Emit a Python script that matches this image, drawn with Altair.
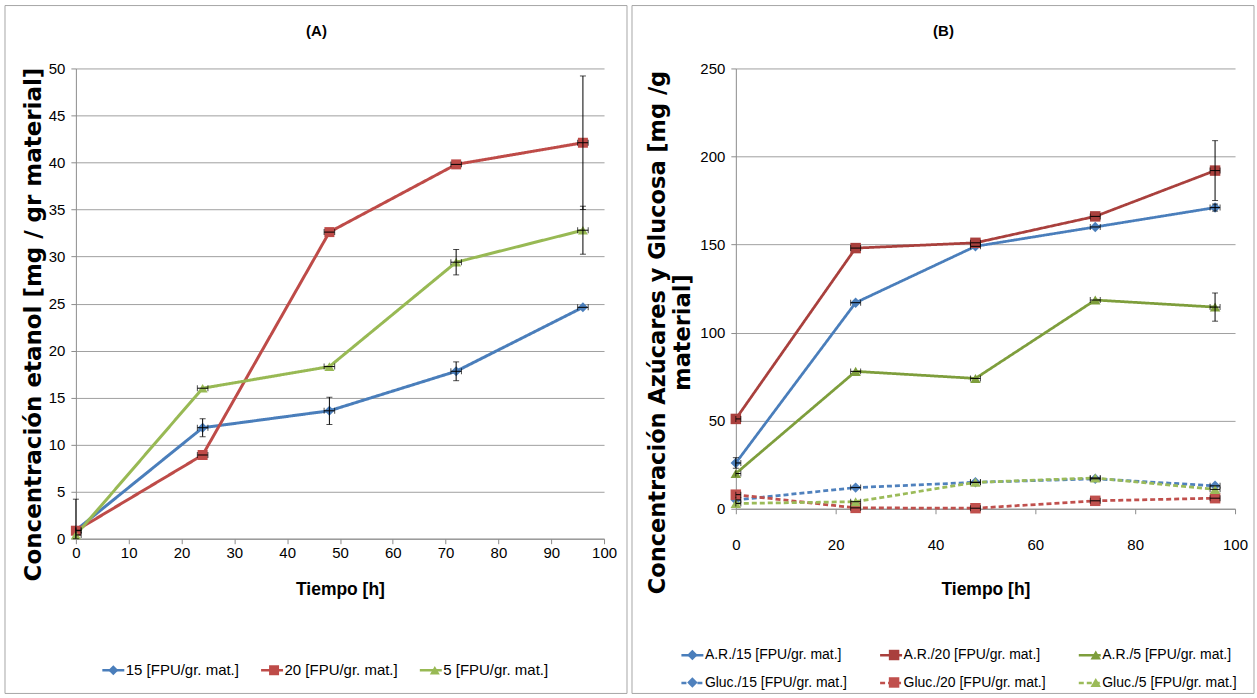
import math
import altair as alt
import pandas as pd

# ---------------- data ----------------
time_h = [0, 24, 48, 72, 96]
time_err = 1.0

a_names = ["15 [FPU/gr. mat.]", "20 [FPU/gr. mat.]", "5 [FPU/gr. mat.]"]
a_15 = [0.9, 11.8, 13.6, 17.8, 24.6]
a_20 = [0.85, 8.9, 32.6, 39.8, 42.1]
a_5 = [0.4, 16.0, 18.3, 29.4, 32.8]
a_15_err = [0.0, 0.95, 1.45, 1.0, 0.0]
a_20_err = [3.35, 0.0, 0.0, 0.0, 7.1]
a_5_err = [0.0, 0.0, 0.0, 1.35, 2.55]

b_names = ["A.R./15 [FPU/gr. mat.]", "A.R./20 [FPU/gr. mat.]", "A.R./5 [FPU/gr. mat.]",
           "Gluc./15 [FPU/gr. mat.]", "Gluc./20 [FPU/gr. mat.]", "Gluc./5 [FPU/gr. mat.]"]
b_ar15 = [26, 117, 149, 160, 171]
b_ar20 = [51, 148, 151, 166, 192]
b_ar5 = [20, 78, 74, 118.5, 114.5]
b_gl15 = [5, 12, 15, 17, 13]
b_gl20 = [8, 0.5, 0.3, 4.5, 6]
b_gl5 = [3, 4, 15, 17.5, 11]
b_ar15_err = [3, 0, 0, 0, 2]
b_ar20_err = [0, 0, 0, 0, 17]
b_ar5_err = [0, 0, 0, 0, 8]
b_gl_err = [0, 0, 0, 0, 0]

# ---------------- styles ----------------
FONT_N = "Liberation Sans"
FONT_W = "DejaVu Sans"
GRID = "#A0A0A0"
AXC = "#8C8C8C"
ZW = "\u200b"  # keeps the marker legend's domain distinct from the line legend's

a_colors = ["#4A7EBB", "#BE4B48", "#98B954"]
a_markers = ["diamond", "square", "triangle-up"]
b_colors = ["#4A7EBB", "#A9403D", "#7E9E3C", "#4F81BD", "#C0504D", "#9BBB59"]
b_markers = ["diamond", "square", "triangle-up"] * 2
b_dashes = [[1, 0]] * 3 + [[5, 3]] * 3

# Liberation Sans advance widths (per 1000 em) for the legend label characters
ADV = {"G": 778, "l": 222, "u": 556, "c": 500, ".": 278, "/": 278, "1": 556, "2": 556,
       "0": 556, "5": 556, " ": 278, "[": 278, "F": 611, "P": 667, "U": 722, "g": 556,
       "r": 333, "m": 833, "a": 556, "t": 278, "]": 278, "A": 667, "R": 722}


def text_w(s, size):
    return sum(ADV.get(ch, 556) for ch in s) * size / 1000.0


def long_df(names, vals, errs, markers):
    rows = []
    for n, vs, es, mk in zip(names, vals, errs, markers):
        for t, v, e in zip(time_h, vs, es):
            rows.append(dict(t=t, v=v, series=n, series_m=n + ZW, err=e, lo=max(0.0, v - e),
                             hi=v + e, tlo=max(0.0, t - time_err), thi=t + time_err, marker=mk))
    return pd.DataFrame(rows)


dfA = long_df(a_names, [a_15, a_20, a_5], [a_15_err, a_20_err, a_5_err], a_markers)
dfB = long_df(b_names, [b_ar15, b_ar20, b_ar5, b_gl15, b_gl20, b_gl5],
              [b_ar15_err, b_ar20_err, b_ar5_err, b_gl_err, b_gl_err, b_gl_err], b_markers)


def panel(df, names, colors, dashes, markers, ydom, ystep, xstep, ytitle, ytitle_size, W, H,
          xlab_pad, xtitle_pad, ytitle_y, ytitle_pad, leg_x, leg_y, leg_cols, leg_colpad,
          leg_rowpad, leg_font, title_text, title_x, frame, line_w, mk_size):
    xs = alt.Scale(domain=[0, 100], nice=False)
    ys = alt.Scale(domain=ydom, nice=False)
    xaxis = alt.Axis(values=list(range(0, 101, xstep)), title="Tiempo [h]", grid=False,
                     tickSize=5, tickColor=AXC, domainColor=AXC, labelFont=FONT_N,
                     labelFontSize=15, labelColor="#000", labelPadding=xlab_pad, labelFlush=False,
                     titleFont=FONT_N, titleFontSize=17.5, titleFontWeight="bold",
                     titleColor="#000", titlePadding=xtitle_pad)
    yaxis = alt.Axis(values=list(range(ydom[0], ydom[1] + 1, ystep)), title=ytitle,
                     grid=True, gridColor=GRID, gridWidth=1, tickSize=5, tickColor=AXC,
                     domainColor=AXC, labelFont=FONT_N, labelFontSize=15, labelColor="#000",
                     labelPadding=6, titleFont=FONT_W, titleFontSize=ytitle_size,
                     titleFontWeight="bold", titleColor="#000", titlePadding=ytitle_pad,
                     titleY=ytitle_y, titleLineHeight=25)

    def X(f):
        return alt.X(f, type="quantitative", scale=xs, axis=xaxis)

    def Y(f):
        return alt.Y(f, type="quantitative", scale=ys, axis=yaxis)

    # line legend (line symbols, dashed where the series is dashed); entry size 25 px
    lo_line = 0
    line_legend = alt.Legend(orient="none", legendX=leg_x, legendY=leg_y,
                             direction="horizontal", columns=leg_cols, title=None,
                             labelFont=FONT_N, labelFontSize=leg_font, labelColor="#000",
                             symbolSize=484, symbolStrokeWidth=2.5, labelOffset=lo_line,
                             columnPadding=leg_colpad, rowPadding=leg_rowpad, labelLimit=400)
    # marker legend (no label text) laid over the line legend, markers centred on each line
    size_m = max(math.ceil(mk_size ** 0.5), leg_font)
    d = 12.5 - size_m / 2
    col_w = [max(text_w(names[i], leg_font) for i in range(c, len(names), leg_cols))
             for c in range(leg_cols)]
    lab_x = 25 + lo_line
    mk_colpad = leg_colpad + math.ceil(lab_x + col_w[0]) - lab_x
    mk_legend = alt.Legend(orient="none", legendX=leg_x, legendY=leg_y + d,
                           direction="horizontal", columns=leg_cols, title=None,
                           labelFont=FONT_N, labelFontSize=leg_font, labelOpacity=0,
                           labelExpr="''",
                           symbolSize=mk_size, symbolStrokeWidth=0, symbolOffset=d,
                           labelOffset=lo_line + 25 - size_m,
                           columnPadding=mk_colpad, rowPadding=leg_rowpad + d,
                           labelLimit=400)

    lines = alt.Chart(df).mark_line(strokeWidth=line_w).encode(
        x=X("t"), y=Y("v"),
        color=alt.Color("series:N", scale=alt.Scale(domain=names, range=colors), legend=line_legend),
        strokeDash=alt.StrokeDash("series:N", scale=alt.Scale(domain=names, range=dashes),
                                  legend=line_legend),
    )
    names_m = [n + ZW for n in names]
    pts = alt.Chart(df).mark_point(filled=True, size=mk_size, opacity=1).encode(
        x=X("t"), y=Y("v"),
        fill=alt.Fill("series_m:N", scale=alt.Scale(domain=names_m, range=colors), legend=mk_legend),
        shape=alt.Shape("series_m:N", scale=alt.Scale(domain=names_m, range=markers), legend=mk_legend),
    )
    verr = alt.Chart(df).transform_filter("datum.err > 0").mark_errorbar(
        ticks={"size": 6, "thickness": 1}, color="black", thickness=1
    ).encode(x=X("t"), y=Y("lo"), y2="hi")
    herr = alt.Chart(df).mark_errorbar(
        ticks={"size": 6, "thickness": 1}, color="black", thickness=1
    ).encode(y=Y("v"), x=X("tlo"), x2="thi")

    fr = alt.Chart(alt.Data(values=[{"label": title_text}])).mark_rect(
        filled=False, color="#A6A6A6", strokeWidth=1
    ).encode(x=alt.value(frame[0]), x2=alt.value(frame[1]),
             y=alt.value(frame[2]), y2=alt.value(frame[3]))
    ttl = alt.Chart(alt.Data(values=[{"label": title_text}])).mark_text(
        font=FONT_N, fontSize=15, fontWeight="bold", color="#000", baseline="middle", align="center"
    ).encode(text="label:N", x=alt.value(title_x), y=alt.value(-37))

    return alt.layer(fr, ttl, lines, pts, verr, herr).properties(width=W, height=H)


left = panel(dfA, a_names, a_colors, [[1, 0]] * 3, a_markers, [0, 50], 5, 10,
             "Concentración etanol [mg  / gr material]", 23, 529, 471,
             xlab_pad=2, xtitle_pad=20, ytitle_y=256, ytitle_pad=3,
             leg_x=25, leg_y=590, leg_cols=3, leg_colpad=16, leg_rowpad=9, leg_font=15,
             title_text="(A)", title_x=241,
             frame=(-71, 552, -63, 626), line_w=3, mk_size=100)

right = panel(dfB, b_names, b_colors, b_dashes, b_markers, [0, 250], 50, 20,
              ["Concentración  Azúcares y Glucosa [mg /g", "material]"], 22.5, 500, 441,
              xlab_pad=24, xtitle_pad=28, ytitle_y=264, ytitle_pad=5,
              leg_x=-56, leg_y=575, leg_cols=3, leg_colpad=27, leg_rowpad=8, leg_font=14,
              title_text="(B)", title_x=208,
              frame=(-104, 519, -63, 626), line_w=2.75, mk_size=110)

chart = alt.hconcat(left, right, spacing=3).resolve_scale(
    color="independent", fill="independent", stroke="independent",
    shape="independent", strokeDash="independent"
).properties(
    padding={"left": 4, "top": 4, "right": 2, "bottom": 4}, background="white"
).configure_view(stroke=None)

chart.save("out.html", embed_options={"renderer": "svg", "actions": False})
